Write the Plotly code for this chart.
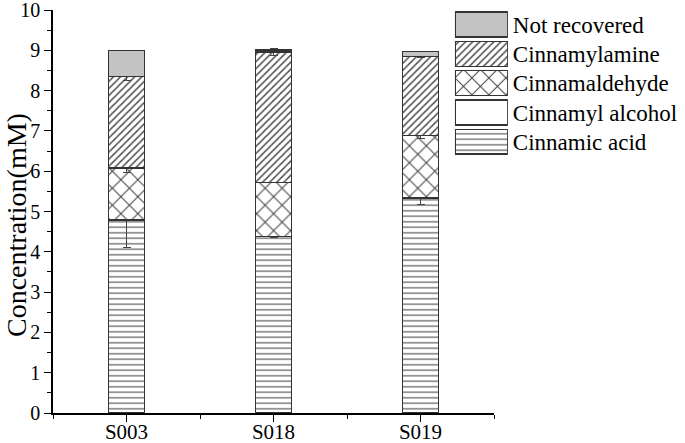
import plotly.graph_objects as go

# ---------------- data ----------------
samples = ["S003", "S018", "S019"]
series_names = ["Cinnamic acid", "Cinnamyl alcohol", "Cinnamaldehyde", "Cinnamylamine", "Not recovered"]

cinnamic_acid = [4.79, 4.38, 5.33]
cinnamic_acid_err = [0.69, 0.03, 0.16]
cinnamyl_alcohol = [0.0, 0.0, 0.0]
cinnamaldehyde = [1.29, 1.34, 1.55]
cinnamaldehyde_err = [0.10, 0.0, 0.07]
cinnamylamine = [2.27, 3.24, 1.97]
cinnamylamine_err = [0.09, 0.08, 0.03]
not_recovered = [0.65, 0.05, 0.12]

y_tick_values = list(range(0, 11))
y_title = "Concentration(mM)"

values = {
    "Cinnamic acid": (cinnamic_acid, cinnamic_acid_err),
    "Cinnamyl alcohol": (cinnamyl_alcohol, None),
    "Cinnamaldehyde": (cinnamaldehyde, cinnamaldehyde_err),
    "Cinnamylamine": (cinnamylamine, cinnamylamine_err),
    "Not recovered": (not_recovered, None),
}

# ---------------- styles ----------------
FONT = "Liberation Serif"
styles = {
    "Cinnamic acid": dict(color="white", pattern=dict(shape="-", size=5.5, solidity=0.25, fgcolor="#707070", bgcolor="white", fillmode="replace")),
    "Cinnamyl alcohol": dict(color="white"),
    "Cinnamaldehyde": dict(color="white", pattern=dict(shape="x", size=12, solidity=0.16, fgcolor="#404040", bgcolor="white", fillmode="replace")),
    "Cinnamylamine": dict(color="white", pattern=dict(shape="/", size=5, solidity=0.3, fgcolor="#505050", bgcolor="white", fillmode="replace")),
    "Not recovered": dict(color="#c3c3c3"),
}
outline = dict(color="#333333", width=1.5)

x_pos = list(range(len(samples)))

fig = go.Figure()
for name in series_names:
    vals, err = values[name]
    st = styles[name]
    marker = dict(color=st["color"], line=outline)
    if "pattern" in st:
        marker["pattern"] = st["pattern"]
    fig.add_trace(go.Bar(
        x=x_pos, y=vals, name=name, width=0.245, marker=marker, showlegend=False,
        error_y=(dict(type="data", array=err, visible=True, color="#444444", thickness=1, width=4)
                 if err is not None else dict(visible=False)),
    ))
    # legend swatch drawn on a separate small axis
    fig.add_trace(go.Bar(
        x=[1], y=[name], orientation="h", width=0.85, marker=marker,
        xaxis="x2", yaxis="y2", showlegend=False, hoverinfo="skip",
    ))

TOP, BOTTOM, LEFT, RIGHT = 10, 30, 53, 2
PLOT_W = 685 - LEFT - RIGHT
PLOT_H = 443 - TOP - BOTTOM

fig.update_layout(
    barmode="stack",
    width=685, height=443,
    margin=dict(l=LEFT, r=RIGHT, t=TOP, b=BOTTOM, autoexpand=False),
    paper_bgcolor="white", plot_bgcolor="white",
    font=dict(family=FONT, color="black"),
    xaxis=dict(
        domain=[0, 0.7], range=[-0.5, 2.5], automargin=False,
        tickmode="array", tickvals=x_pos, ticktext=samples,
        showline=True, linecolor="black", linewidth=1.5,
        ticks="outside", ticklen=7, tickwidth=1.2, tickcolor="black",
        minor=dict(tickmode="linear", tick0=-0.5, dtick=1, ticks="outside", ticklen=4, tickcolor="black", tickwidth=1.2),
        showgrid=False, zeroline=False,
        ticklabelstandoff=-8, ticklabeloverflow="allow",
        tickfont=dict(size=21, family=FONT),
    ),
    yaxis=dict(
        range=[0, 10], tickmode="array", tickvals=y_tick_values, automargin=False,
        showline=True, linecolor="black", linewidth=1.5,
        ticks="outside", ticklen=7, tickwidth=1.2, tickcolor="black",
        minor=dict(tickmode="linear", tick0=0, dtick=0.5, ticks="outside", ticklen=4, tickcolor="black", tickwidth=1.2),
        showgrid=False, zeroline=False, ticklabeloverflow="allow",
        tickfont=dict(size=20, family=FONT),
    ),
    xaxis2=dict(domain=[0.638, 0.722], range=[0, 1], visible=False, anchor="y2", fixedrange=True, automargin=False),
    yaxis2=dict(
        domain=[1 - (156.35 - TOP) / PLOT_H, 1.0],
        anchor="x2", side="right", automargin=False,
        type="category", categoryorder="array", categoryarray=series_names,
        range=[-0.5, 4.5],
        showline=False, showgrid=False, zeroline=False, ticks="",
        ticklabelstandoff=4,
        tickfont=dict(size=23, family=FONT),
    ),
    annotations=[dict(
        text=y_title, textangle=-90, xref="paper", yref="paper",
        x=-37 / PLOT_W, y=(413 - 225) / PLOT_H, xanchor="center", yanchor="middle",
        showarrow=False, font=dict(size=28, family=FONT, color="black"),
    )],
)

fig.write_html(
    "out.html",
    config={"displayModeBar": False},
    post_script="document.body.style.margin='0';document.body.style.overflow='hidden';",
)
